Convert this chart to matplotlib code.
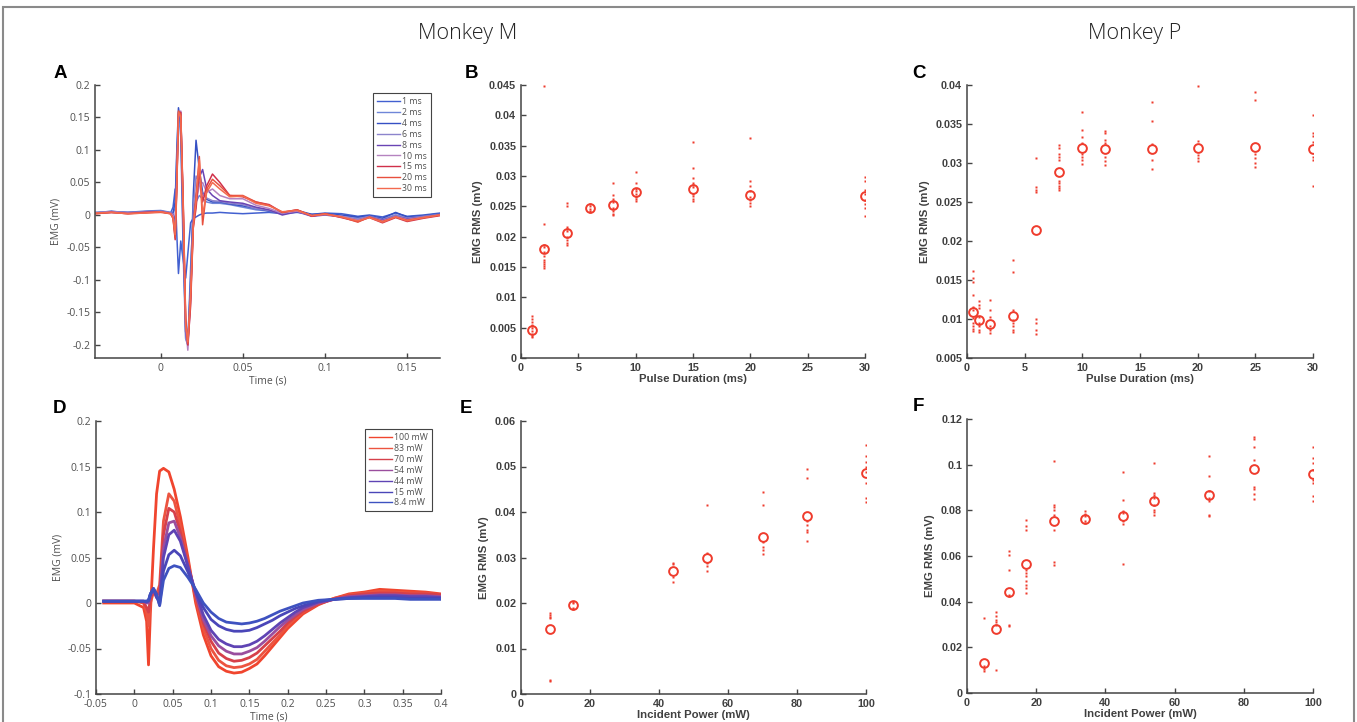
import matplotlib
matplotlib.use('Agg')
import matplotlib.pyplot as plt
from matplotlib.patches import Rectangle

W, H = 1357, 722
RED = '#ef3b2c'

# ---- panel A: EMG traces, pulse duration (Monkey M)
tA = [-0.04, -0.03, -0.02, -0.01, 0.0, 0.006, 0.0075, 0.0088, 0.0098, 0.0108,
      0.0122, 0.0137, 0.0152, 0.0165, 0.0182, 0.0198, 0.0215, 0.0235, 0.0255, 0.028,
      0.0315, 0.036, 0.042, 0.05, 0.058, 0.066, 0.074, 0.083, 0.092, 0.1,
      0.11, 0.12, 0.127, 0.135, 0.143, 0.15, 0.16, 0.17]
dur_labels = ['1 ms', '2 ms', '4 ms', '6 ms', '8 ms', '10 ms', '15 ms', '20 ms', '30 ms']
dur_colors = ['#4260d0', '#6f86d8', '#3550c4', '#8c84cc', '#6a44b4', '#b583c0', '#d0304a', '#e8503e', '#f36a4f']
emg_1ms = [0.003, 0.006, 0.003, 0.005, 0.006, 0.003, 0.012, 0.04, -0.03, -0.09,
           -0.04, -0.07, -0.097, -0.06, -0.012, -0.005, -0.003, 0.0, 0.002, 0.003,
           0.003, 0.004, 0.003, 0.002, 0.003, 0.004, 0.002, 0.004, 0.001, 0.003,
           0.002, -0.002, 0.0, -0.003, 0.003, -0.002, 0.0, 0.003]
emg_2ms = [0.004, 0.005, 0.004, 0.006, 0.007, 0.004, 0.004, 0.01, 0.09, 0.158,
           0.12, -0.06, -0.19, -0.2, -0.08, 0.0, 0.02, 0.03, 0.025, 0.02,
           0.018, 0.018, 0.016, 0.012, 0.008, 0.006, 0.002, 0.006, 0.0, 0.002,
           -0.001, -0.004, -0.002, -0.006, 0.0, -0.004, -0.002, 0.002]
emg_4ms = [0.003, 0.005, 0.004, 0.005, 0.006, 0.003, 0.003, 0.02, 0.1, 0.165,
           0.14, -0.04, -0.18, -0.195, -0.1, 0.03, 0.115, 0.07, 0.035, 0.024,
           0.02, 0.02, 0.017, 0.014, 0.01, 0.006, 0.003, 0.007, 0.001, 0.002,
           0.0, -0.003, -0.001, -0.005, 0.004, -0.003, -0.001, 0.002]
emg_6ms = [0.004, 0.005, 0.004, 0.005, 0.006, 0.004, 0.002, -0.01, 0.07, 0.155,
           0.15, -0.02, -0.19, -0.2, -0.11, 0.01, 0.06, 0.05, 0.033, 0.026,
           0.022, 0.021, 0.018, 0.016, 0.01, 0.007, 0.002, 0.006, -0.001, 0.001,
           -0.002, -0.006, -0.002, -0.007, 0.0, -0.005, -0.002, 0.001]
emg_8ms = [0.003, 0.004, 0.003, 0.004, 0.005, 0.003, 0.001, -0.015, 0.06, 0.15,
           0.158, 0.0, -0.18, -0.2, -0.12, -0.01, 0.03, 0.058, 0.07, 0.04,
           0.03, 0.022, 0.02, 0.018, 0.012, 0.008, 0.0, 0.005, -0.002, 0.0,
           -0.003, -0.008, -0.003, -0.008, -0.002, -0.006, -0.003, 0.0]
emg_10ms = [0.003, 0.005, 0.003, 0.004, 0.005, 0.003, 0.0, -0.03, 0.05, 0.15,
            0.16, 0.01, -0.17, -0.208, -0.13, -0.015, 0.02, 0.045, 0.05, 0.035,
            0.04, 0.03, 0.025, 0.025, 0.015, 0.01, 0.003, 0.006, -0.001, 0.001,
            -0.002, -0.008, -0.003, -0.009, -0.002, -0.007, -0.003, 0.0]
emg_15ms = [0.002, 0.004, 0.002, 0.004, 0.005, 0.002, -0.005, -0.038, 0.04, 0.155,
            0.158, 0.02, -0.16, -0.2, -0.14, -0.02, 0.01, 0.07, 0.02, 0.045,
            0.063, 0.05, 0.03, 0.028, 0.02, 0.016, 0.004, 0.008, -0.002, 0.002,
            -0.004, -0.01, -0.004, -0.012, -0.004, -0.01, -0.005, -0.001]
emg_20ms = [0.002, 0.004, 0.002, 0.003, 0.004, 0.002, -0.005, -0.035, 0.045, 0.16,
            0.155, 0.015, -0.165, -0.198, -0.13, -0.02, 0.03, 0.09, -0.015, 0.04,
            0.055, 0.045, 0.03, 0.03, 0.02, 0.015, 0.004, 0.008, -0.001, 0.002,
            -0.003, -0.011, -0.003, -0.01, -0.003, -0.008, -0.004, 0.0]
emg_30ms = [0.003, 0.004, 0.002, 0.003, 0.005, 0.002, -0.004, -0.03, 0.05, 0.158,
            0.152, 0.01, -0.17, -0.195, -0.12, -0.015, 0.02, 0.085, 0.0, 0.035,
            0.05, 0.04, 0.028, 0.029, 0.018, 0.014, 0.005, 0.007, -0.001, 0.001,
            -0.003, -0.009, -0.004, -0.011, -0.003, -0.009, -0.004, 0.0]
emgA = [emg_1ms, emg_2ms, emg_4ms, emg_6ms, emg_8ms, emg_10ms, emg_15ms, emg_20ms, emg_30ms]

# ---- panel D: EMG traces, incident power (Monkey M)
tD = [-0.04, 0.0, 0.012, 0.016, 0.0185, 0.021, 0.025, 0.029, 0.033, 0.038,
      0.045, 0.052, 0.06, 0.07, 0.08, 0.09, 0.1, 0.11, 0.12, 0.13,
      0.14, 0.15, 0.16, 0.17, 0.18, 0.19, 0.2, 0.21, 0.22, 0.24,
      0.26, 0.28, 0.3, 0.32, 0.34, 0.36, 0.38, 0.4]
pow_labels = ['100 mW', '83 mW', '70 mW', '54 mW', '44 mW', '15 mW', '8.4 mW']
pow_colors = ['#f0452e', '#ec5440', '#d6404a', '#9a4e9e', '#5f44b4', '#4a46b8', '#3e52c0']
emg_100 = [0.0, 0.0, -0.005, -0.02, -0.068, -0.01, 0.06, 0.12, 0.145, 0.148,
           0.144, 0.125, 0.095, 0.05, 0.0, -0.035, -0.058, -0.07, -0.075, -0.077,
           -0.076, -0.072, -0.067, -0.058, -0.048, -0.038, -0.028, -0.02, -0.012, -0.002,
           0.005, 0.01, 0.012, 0.015, 0.014, 0.013, 0.012, 0.01]
emg_83 = [0.002, 0.002, 0.0, -0.01, -0.025, 0.0, 0.012, 0.01, 0.02, 0.09,
          0.12, 0.112, 0.085, 0.045, 0.005, -0.028, -0.05, -0.063, -0.069, -0.071,
          -0.07, -0.067, -0.062, -0.053, -0.044, -0.035, -0.025, -0.017, -0.01, -0.001,
          0.005, 0.009, 0.011, 0.013, 0.012, 0.011, 0.011, 0.009]
emg_70 = [0.002, 0.002, 0.001, -0.005, -0.01, 0.005, 0.014, 0.008, 0.012, 0.075,
          0.104, 0.1, 0.078, 0.042, 0.008, -0.022, -0.042, -0.055, -0.061, -0.064,
          -0.063, -0.06, -0.055, -0.047, -0.039, -0.031, -0.022, -0.015, -0.009, -0.001,
          0.004, 0.008, 0.01, 0.011, 0.011, 0.01, 0.01, 0.009]
emg_54 = [0.002, 0.002, 0.002, 0.0, 0.0, 0.008, 0.015, 0.006, 0.005, 0.06,
          0.088, 0.09, 0.072, 0.04, 0.01, -0.018, -0.036, -0.047, -0.053, -0.056,
          -0.056, -0.053, -0.049, -0.042, -0.034, -0.026, -0.019, -0.013, -0.007, 0.0,
          0.004, 0.007, 0.008, 0.009, 0.009, 0.008, 0.008, 0.007]
emg_44 = [0.002, 0.002, 0.002, 0.001, 0.002, 0.01, 0.015, 0.006, 0.002, 0.05,
          0.075, 0.08, 0.068, 0.04, 0.012, -0.013, -0.03, -0.04, -0.045, -0.048,
          -0.048, -0.046, -0.042, -0.036, -0.029, -0.022, -0.016, -0.01, -0.005, 0.001,
          0.004, 0.006, 0.007, 0.008, 0.008, 0.007, 0.007, 0.006]
emg_15 = [0.002, 0.002, 0.002, 0.002, 0.003, 0.01, 0.016, 0.008, -0.002, 0.035,
          0.053, 0.058, 0.052, 0.034, 0.013, -0.005, -0.018, -0.025, -0.029, -0.031,
          -0.031, -0.03, -0.027, -0.023, -0.019, -0.014, -0.01, -0.006, -0.003, 0.002,
          0.004, 0.005, 0.006, 0.006, 0.006, 0.005, 0.005, 0.005]
emg_8p4 = [0.002, 0.002, 0.002, 0.002, 0.003, 0.01, 0.016, 0.01, -0.003, 0.025,
           0.038, 0.041, 0.039, 0.028, 0.015, 0.0, -0.01, -0.017, -0.021, -0.022,
           -0.023, -0.022, -0.02, -0.017, -0.013, -0.009, -0.006, -0.003, 0.0, 0.003,
           0.004, 0.005, 0.005, 0.005, 0.005, 0.004, 0.004, 0.004]
emgD = [emg_100, emg_83, emg_70, emg_54, emg_44, emg_15, emg_8p4]

# ---- panel B: RMS vs pulse duration (Monkey M)
durB = [1, 2, 4, 6, 8, 10, 15, 20, 30]
meanB = [0.0046, 0.0179, 0.0206, 0.0248, 0.0252, 0.0273, 0.0278, 0.0268, 0.0267]
trialsB = [
    [0.0069, 0.0064, 0.006, 0.0055, 0.0052, 0.0049, 0.0044, 0.004, 0.0037, 0.0035],
    [0.0448, 0.0221, 0.0187, 0.0183, 0.0175, 0.0168, 0.0162, 0.0158, 0.0155, 0.0152, 0.0148],
    [0.0255, 0.025, 0.0216, 0.0213, 0.021, 0.02, 0.0195, 0.019, 0.0187],
    [0.0254, 0.0251, 0.0246, 0.0243, 0.0241],
    [0.0289, 0.0268, 0.0262, 0.0257, 0.0248, 0.0243, 0.0238, 0.0236],
    [0.0306, 0.0289, 0.0279, 0.0276, 0.027, 0.0265, 0.0262, 0.0258],
    [0.0356, 0.0314, 0.0296, 0.0288, 0.0285, 0.0282, 0.027, 0.0267, 0.0262, 0.0258],
    [0.0363, 0.0292, 0.0283, 0.0275, 0.0265, 0.026, 0.0255, 0.025],
    [0.0299, 0.0291, 0.0277, 0.0271, 0.026, 0.0254, 0.0247, 0.0234],
]

# ---- panel C: RMS vs pulse duration (Monkey P)
durC = [0.5, 1, 2, 4, 6, 8, 10, 12, 16, 20, 25, 30]
meanC = [0.01085, 0.00987, 0.0094, 0.01038, 0.02135, 0.0289, 0.0319, 0.03176,
         0.0318, 0.0319, 0.03206, 0.03176]
trialsC = [
    [0.0161, 0.0152, 0.0147, 0.0131, 0.0116, 0.0112, 0.0101, 0.0095, 0.0091, 0.0087, 0.0084],
    [0.0123, 0.0118, 0.0114, 0.0103, 0.0095, 0.0091, 0.0086, 0.0083],
    [0.0124, 0.0111, 0.0103, 0.0091, 0.0086, 0.0082],
    [0.0175, 0.016, 0.0112, 0.0099, 0.0095, 0.0091, 0.0086, 0.0083],
    [0.0307, 0.0269, 0.0266, 0.0263, 0.01, 0.0095, 0.0086, 0.0081],
    [0.0323, 0.0319, 0.0312, 0.0308, 0.0304, 0.0277, 0.0274, 0.0271, 0.0268, 0.0265],
    [0.0365, 0.0342, 0.0333, 0.0325, 0.0312, 0.0308, 0.0304, 0.0299],
    [0.0341, 0.0339, 0.033, 0.0325, 0.0308, 0.0302, 0.0298],
    [0.0378, 0.0354, 0.0324, 0.0304, 0.0292],
    [0.0399, 0.0328, 0.031, 0.0306, 0.0302],
    [0.0391, 0.0381, 0.0312, 0.0306, 0.03, 0.0295],
    [0.0362, 0.0338, 0.0335, 0.0327, 0.0308, 0.0304, 0.0271],
]

# ---- panel E: RMS vs incident power (Monkey M)
powE = [8.4, 15, 44, 54, 70, 83, 100]
meanE = [0.0142, 0.0195, 0.027, 0.0298, 0.0344, 0.0391, 0.0486]
trialsE = [
    [0.0179, 0.0173, 0.017, 0.0166, 0.0031, 0.0028],
    [0.0203, 0.0199, 0.019, 0.0186],
    [0.0288, 0.0285, 0.0258, 0.0247],
    [0.0416, 0.031, 0.0287, 0.0282, 0.0271],
    [0.0443, 0.0416, 0.0334, 0.0323, 0.0316, 0.0307],
    [0.0495, 0.0475, 0.038, 0.0371, 0.036, 0.0356, 0.0337],
    [0.0548, 0.0523, 0.051, 0.05, 0.0488, 0.0464, 0.0431, 0.0421],
]

# ---- panel F: RMS vs incident power (Monkey P)
powF = [5, 8.4, 12, 17, 25, 34, 45, 54, 70, 83, 100]
meanF = [0.013, 0.0279, 0.0441, 0.0566, 0.0755, 0.0762, 0.0777, 0.0842, 0.0867, 0.0982, 0.0958]
trialsF = [
    [0.0328, 0.0117, 0.0105, 0.0095],
    [0.0353, 0.0336, 0.0321, 0.031, 0.03, 0.0099],
    [0.062, 0.0606, 0.054, 0.0431, 0.0423, 0.0299, 0.0292],
    [0.0759, 0.073, 0.0715, 0.054, 0.0526, 0.0511, 0.0489, 0.0474, 0.046, 0.0438],
    [0.1015, 0.0825, 0.0815, 0.0803, 0.0781, 0.0715, 0.0572, 0.0562],
    [0.0796, 0.0786, 0.0774, 0.0753, 0.0745],
    [0.0966, 0.0847, 0.0796, 0.0788, 0.0752, 0.0742, 0.0566],
    [0.1007, 0.0876, 0.0866, 0.0855, 0.0825, 0.0803, 0.0791, 0.0781],
    [0.1036, 0.0949, 0.0883, 0.0854, 0.0839, 0.0781, 0.0774],
    [0.1121, 0.1114, 0.1077, 0.1022, 0.0902, 0.0895, 0.0872, 0.085],
    [0.1076, 0.1029, 0.1007, 0.0978, 0.0934, 0.092, 0.0861, 0.0839],
]

# tick positions (labels printed MATLAB style)
ticksA_x = [0, 0.05, 0.1, 0.15]
ticksA_y = [-0.2, -0.15, -0.1, -0.05, 0, 0.05, 0.1, 0.15, 0.2]
ticksD_x = [-0.05, 0, 0.05, 0.1, 0.15, 0.2, 0.25, 0.3, 0.35, 0.4]
ticksD_y = [-0.1, -0.05, 0, 0.05, 0.1, 0.15, 0.2]
ticksB_y = [0, 0.005, 0.01, 0.015, 0.02, 0.025, 0.03, 0.035, 0.04, 0.045]
ticksC_y = [0.005, 0.01, 0.015, 0.02, 0.025, 0.03, 0.035, 0.04]
ticksE_y = [0, 0.01, 0.02, 0.03, 0.04, 0.05, 0.06]
ticksF_y = [0, 0.02, 0.04, 0.06, 0.08, 0.1, 0.12]
ticks_dur = [0, 5, 10, 15, 20, 25, 30]
ticks_pow = [0, 20, 40, 60, 80, 100]


def lab(v):
    return '%g' % v


def px_axes(fig, left, top, right, bottom):
    return fig.add_axes([left / W, 1 - bottom / H, (right - left) / W, (bottom - top) / H])


def style_axes(ax, font, weight, color, size):
    for s in ['top', 'right']:
        ax.spines[s].set_visible(False)
    for s in ['left', 'bottom']:
        ax.spines[s].set_color('#444444')
        ax.spines[s].set_linewidth(1.1)
    ax.tick_params(direction='in', length=3.5, width=1.0, color='#444444',
                   labelsize=size, labelcolor=color, pad=3.5)
    for t in ax.get_xticklabels() + ax.get_yticklabels():
        t.set_fontfamily(font)
        t.set_fontweight(weight)


def trace_panel(ax, t, traces, labels, colors, lw, xticks, yticks, xlim, ylim, anchor):
    for y, l, c in zip(traces, labels, colors):
        ax.plot(t, y, color=c, lw=lw, label=l)
    ax.set_xlim(xlim)
    ax.set_ylim(ylim)
    ax.set_xticks(xticks)
    ax.set_xticklabels([lab(v) for v in xticks])
    ax.set_yticks(yticks)
    ax.set_yticklabels([lab(v) for v in yticks])
    style_axes(ax, 'Open Sans', 'normal', '#505050', 7.5)
    ax.set_xlabel('Time (s)', fontfamily='Open Sans', fontsize=7.5, color='#505050', labelpad=1)
    ax.set_ylabel('EMG (mV)', fontfamily='Open Sans', fontsize=7.5, color='#505050', labelpad=3)
    leg = ax.legend(loc='upper right', bbox_to_anchor=anchor, borderaxespad=0,
                    prop={'family': 'Open Sans', 'size': 6.3}, handlelength=2.6,
                    labelspacing=0.22, handletextpad=0.3, borderpad=0.45,
                    fancybox=False, framealpha=1, edgecolor='#444444')
    leg.get_frame().set_linewidth(0.8)
    for h in leg.get_lines():
        h.set_linewidth(1.0)
    for txt in leg.get_texts():
        txt.set_color('#505050')


def rms_panel(ax, xs, means, trials, xlim, ylim, xticks, yticks, xlabel):
    for x, m, tr in zip(xs, means, trials):
        ax.plot([x] * len(tr), tr, ls='none', marker='s', ms=1.7, mec='none', mfc=RED)
        ax.plot(x, m, ls='none', marker='o', ms=6.3, mfc='none', mec=RED, mew=1.4)
    ax.set_xlim(xlim)
    ax.set_ylim(ylim)
    ax.set_xticks(xticks)
    ax.set_xticklabels([lab(v) for v in xticks])
    ax.set_yticks(yticks)
    ax.set_yticklabels([lab(v) for v in yticks])
    style_axes(ax, 'Liberation Sans', 'bold', '#404040', 7.8)
    ax.set_xlabel(xlabel, fontfamily='Liberation Sans', fontweight='bold', fontsize=8.2,
                  color='#404040', labelpad=1)
    ax.set_ylabel('EMG RMS (mV)', fontfamily='Liberation Sans', fontweight='bold', fontsize=8.2,
                  color='#404040', labelpad=4)


fig = plt.figure(figsize=(W / 100, H / 100), dpi=100)

axA = px_axes(fig, 95, 85, 440, 358)
trace_panel(axA, tA, emgA, dur_labels, dur_colors, 1.1, ticksA_x, ticksA_y,
            (-0.04, 0.17), (-0.22, 0.2), (1 - 9 / 345, 1 - 8 / 273))

axD = px_axes(fig, 96, 421, 441, 694)
trace_panel(axD, tD, emgD, pow_labels, pow_colors, 2.0, ticksD_x, ticksD_y,
            (-0.05, 0.4), (-0.1, 0.2), (1 - 9 / 345, 1 - 8 / 273))

axB = px_axes(fig, 521, 85, 865, 358)
rms_panel(axB, durB, meanB, trialsB, (0, 30), (0, 0.045), ticks_dur, ticksB_y, 'Pulse Duration (ms)')

axC = px_axes(fig, 967, 85, 1313, 358)
rms_panel(axC, durC, meanC, trialsC, (0, 30), (0.005, 0.04), ticks_dur, ticksC_y, 'Pulse Duration (ms)')

axE = px_axes(fig, 521, 421, 866, 694)
rms_panel(axE, powE, meanE, trialsE, (0, 100), (0, 0.06), ticks_pow, ticksE_y, 'Incident Power (mW)')

axF = px_axes(fig, 967, 419, 1313, 693)
rms_panel(axF, powF, meanF, trialsF, (0, 100), (0, 0.12), ticks_pow, ticksF_y, 'Incident Power (mW)')

# panel letters
for letter, x, y in [('A', 60, 73), ('B', 472, 73), ('C', 919, 73),
                     ('D', 60, 408), ('E', 466, 408), ('F', 918, 407)]:
    fig.text(x / W, 1 - y / H, letter, fontsize=13.5, fontweight='bold',
             fontfamily='Liberation Sans', ha='center', va='center', color='black')

# column titles
fig.text(468 / W, 1 - 33 / H, 'Monkey M', fontsize=15.5, fontfamily='Open Sans',
         fontweight='light', ha='center', va='center', color='#222222')
fig.text(1135 / W, 1 - 33 / H, 'Monkey P', fontsize=15.5, fontfamily='Open Sans',
         fontweight='light', ha='center', va='center', color='#222222')

# outer frame
fig.add_artist(Rectangle((3 / W, -0.02), (1354 - 3) / W, (722 - 7) / H + 0.02,
                         transform=fig.transFigure, fill=False, ec='#8a8a8a', lw=1.5))

fig.savefig('out.png', dpi=100)
